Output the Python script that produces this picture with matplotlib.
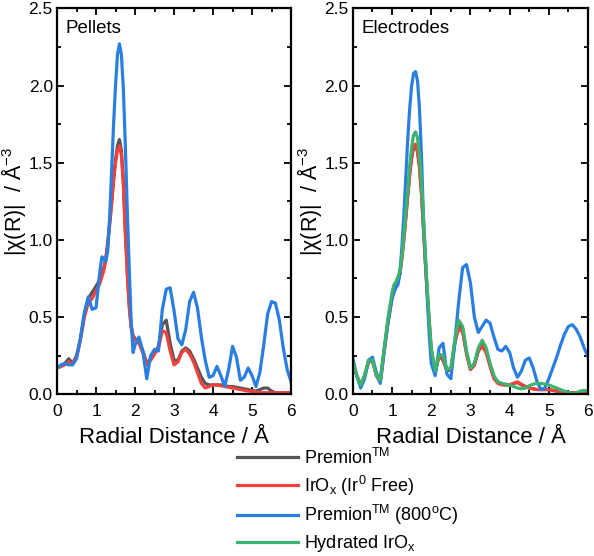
import matplotlib
matplotlib.use("Agg")
import matplotlib.pyplot as plt
from matplotlib.ticker import MultipleLocator

plt.rcParams['font.family'] = ['Liberation Sans', 'DejaVu Sans']
plt.rcParams['mathtext.fontset'] = 'custom'
plt.rcParams['mathtext.rm'] = 'Liberation Sans'
plt.rcParams['mathtext.it'] = 'Liberation Sans:italic'

# ---------------- data ----------------
R = ([round(0.1 * i, 2) for i in range(0, 11)] +
     [round(1.0 + 0.05 * i, 2) for i in range(1, 21)] +
     [round(2.0 + 0.1 * i, 2) for i in range(1, 41)])

# Pellets
pel_premion = [0.17, 0.18, 0.20, 0.23, 0.20, 0.25, 0.36, 0.51, 0.62, 0.66, 0.70,
               0.72, 0.75, 0.78, 0.82, 0.88, 0.98, 1.11, 1.25, 1.40, 1.52, 1.61, 1.65, 1.58, 1.38, 1.07, 0.80, 0.58, 0.44, 0.38, 0.36,
               0.34, 0.28, 0.20, 0.23, 0.27, 0.31, 0.45, 0.48, 0.33, 0.22, 0.22, 0.28, 0.30, 0.28, 0.23, 0.17, 0.11, 0.07, 0.06,
               0.06, 0.06, 0.06, 0.055, 0.05, 0.05, 0.045, 0.04, 0.035, 0.03, 0.025, 0.02, 0.03, 0.04, 0.04, 0.02, 0.01, 0.01, 0.01, 0.01, 0.01]
pel_irox = [0.17, 0.18, 0.19, 0.21, 0.20, 0.24, 0.35, 0.50, 0.59, 0.62, 0.67,
            0.69, 0.72, 0.76, 0.80, 0.87, 0.97, 1.10, 1.23, 1.38, 1.50, 1.58, 1.61, 1.55, 1.36, 1.05, 0.78, 0.57, 0.43, 0.37, 0.35,
            0.33, 0.27, 0.19, 0.22, 0.26, 0.30, 0.41, 0.40, 0.28, 0.19, 0.21, 0.27, 0.29, 0.26, 0.21, 0.14, 0.07, 0.04, 0.05,
            0.06, 0.06, 0.055, 0.05, 0.045, 0.04, 0.035, 0.03, 0.025, 0.02, 0.02, 0.015, 0.01, 0.01, 0.01, 0.01, 0.01, 0.01, 0.01, 0.01, 0.01]
pel_800 = [0.17, 0.19, 0.20, 0.19, 0.19, 0.23, 0.36, 0.53, 0.63, 0.55, 0.56,
           0.68, 0.80, 0.89, 0.88, 0.86, 0.93, 1.15, 1.45, 1.75, 2.00, 2.20, 2.27, 2.20, 1.98, 1.62, 1.20, 0.82, 0.48, 0.27, 0.32,
           0.37, 0.28, 0.10, 0.25, 0.29, 0.28, 0.55, 0.68, 0.69, 0.54, 0.36, 0.32, 0.42, 0.60, 0.66, 0.56, 0.37, 0.22, 0.11,
           0.12, 0.18, 0.12, 0.05, 0.16, 0.31, 0.24, 0.09, 0.11, 0.17, 0.12, 0.05, 0.14, 0.32, 0.52, 0.60, 0.59, 0.48, 0.30, 0.16, 0.08]

# Electrodes
ele_premion = [0.21, 0.12, 0.06, 0.12, 0.21, 0.22, 0.12, 0.08, 0.29, 0.48, 0.63,
               0.68, 0.71, 0.74, 0.78, 0.88, 1.00, 1.14, 1.28, 1.42, 1.53, 1.60, 1.61, 1.57, 1.47, 1.30, 1.08, 0.85, 0.64, 0.45, 0.28,
               0.14, 0.25, 0.22, 0.15, 0.16, 0.33, 0.45, 0.42, 0.27, 0.16, 0.19, 0.28, 0.32, 0.28, 0.19, 0.11, 0.08, 0.065, 0.06,
               0.06, 0.07, 0.075, 0.06, 0.05, 0.04, 0.035, 0.03, 0.03, 0.03, 0.03, 0.025, 0.02, 0.02, 0.015, 0.01, 0.01, 0.01, 0.01, 0.015, 0.02]
ele_irox = [0.21, 0.12, 0.06, 0.12, 0.21, 0.22, 0.12, 0.08, 0.28, 0.47, 0.62,
            0.67, 0.70, 0.73, 0.78, 0.88, 1.00, 1.14, 1.29, 1.43, 1.54, 1.61, 1.62, 1.58, 1.48, 1.31, 1.09, 0.86, 0.65, 0.46, 0.29,
            0.14, 0.25, 0.23, 0.16, 0.16, 0.33, 0.43, 0.40, 0.26, 0.16, 0.19, 0.28, 0.31, 0.27, 0.18, 0.10, 0.07, 0.06, 0.06,
            0.06, 0.07, 0.08, 0.065, 0.05, 0.04, 0.035, 0.03, 0.03, 0.03, 0.03, 0.025, 0.02, 0.02, 0.015, 0.01, 0.01, 0.01, 0.01, 0.01, 0.01]
ele_800 = [0.23, 0.12, 0.04, 0.10, 0.22, 0.24, 0.14, 0.07, 0.28, 0.47, 0.62,
           0.66, 0.69, 0.71, 0.78, 0.95, 1.15, 1.40, 1.65, 1.85, 2.00, 2.08, 2.09, 2.03, 1.85, 1.55, 1.15, 0.90, 0.62, 0.38, 0.20,
           0.12, 0.30, 0.33, 0.13, 0.10, 0.33, 0.60, 0.82, 0.84, 0.72, 0.50, 0.40, 0.44, 0.48, 0.46, 0.37, 0.29, 0.28, 0.31,
           0.27, 0.17, 0.11, 0.15, 0.22, 0.235, 0.17, 0.08, 0.03, 0.04, 0.10, 0.17, 0.24, 0.32, 0.39, 0.44, 0.45, 0.42, 0.37, 0.30, 0.24]
ele_hydrated = [0.21, 0.12, 0.06, 0.12, 0.22, 0.22, 0.12, 0.09, 0.30, 0.50, 0.66,
                0.71, 0.73, 0.76, 0.80, 0.90, 1.03, 1.18, 1.33, 1.48, 1.60, 1.68, 1.70, 1.66, 1.55, 1.38, 1.15, 0.90, 0.68, 0.48, 0.30,
                0.15, 0.26, 0.25, 0.16, 0.17, 0.35, 0.48, 0.44, 0.28, 0.17, 0.20, 0.30, 0.35, 0.30, 0.20, 0.12, 0.08, 0.07, 0.065,
                0.06, 0.05, 0.04, 0.035, 0.04, 0.055, 0.065, 0.07, 0.07, 0.065, 0.06, 0.05, 0.04, 0.03, 0.02, 0.01, 0.005, 0.01, 0.02, 0.025, 0.02]

labels = ["Premion$^{\\mathrm{TM}}$", "IrO$_{\\mathrm{x}}$ (Ir$^{0}$ Free)",
          "Premion$^{\\mathrm{TM}}$ (800$^{\\mathrm{o}}$C)", "Hydrated IrO$_{\\mathrm{x}}$"]
colors = ["#555555", "#f0413c", "#2a7de1", "#3cb36e"]
panel_titles = ["Pellets", "Electrodes"]
xticks = [0, 1, 2, 3, 4, 5, 6]
yticks = [0.0, 0.5, 1.0, 1.5, 2.0, 2.5]

# ---------------- figure ----------------
fig = plt.figure(figsize=(5.94, 5.56), dpi=100)
axL = fig.add_axes([0.096, 0.291, 0.394, 0.694])
axR = fig.add_axes([0.594, 0.291, 0.396, 0.694])

lw = 2.3
axL.plot(R, pel_premion, color=colors[0], lw=lw)
axL.plot(R, pel_irox, color=colors[1], lw=lw)
axL.plot(R, pel_800, color=colors[2], lw=lw)

handles = []
for ys, c, lab in zip([ele_premion, ele_irox, ele_800, ele_hydrated], colors, labels):
    h, = axR.plot(R, ys, color=c, lw=lw, label=lab)
    handles.append(h)

for ax, title in zip([axL, axR], panel_titles):
    ax.set_xlim(0, 6)
    ax.set_ylim(0, 2.5)
    ax.set_xticks(xticks)
    ax.set_yticks(yticks)
    ax.set_yticklabels([f"{v:.1f}" for v in yticks])
    ax.xaxis.set_minor_locator(MultipleLocator(0.5))
    ax.yaxis.set_minor_locator(MultipleLocator(0.25))
    ax.tick_params(which='both', direction='in', top=True, right=True, labelsize=12.5, width=1.3)
    ax.tick_params(axis='x', which='major', pad=7)
    ax.tick_params(axis='y', which='major', pad=3)
    ax.tick_params(which='major', length=5)
    ax.tick_params(which='minor', length=3)
    for s in ax.spines.values():
        s.set_linewidth(1.6)
    ax.set_xlabel("Radial Distance / Å", fontsize=16, labelpad=6)
    ax.set_ylabel("|χ(R)|  / Å$^{-3}$", fontsize=15.5, labelpad=0)
    ax.text(0.035, 0.948, title, transform=ax.transAxes, fontsize=13.5, va='center', ha='left')

fig.legend(handles=handles, loc='upper left', bbox_to_anchor=(0.399, 0.195),
           frameon=False, fontsize=13, handlelength=3.4, handletextpad=0.3,
           labelspacing=0.32, borderpad=0, borderaxespad=0)

fig.savefig("out.png", dpi=100)
